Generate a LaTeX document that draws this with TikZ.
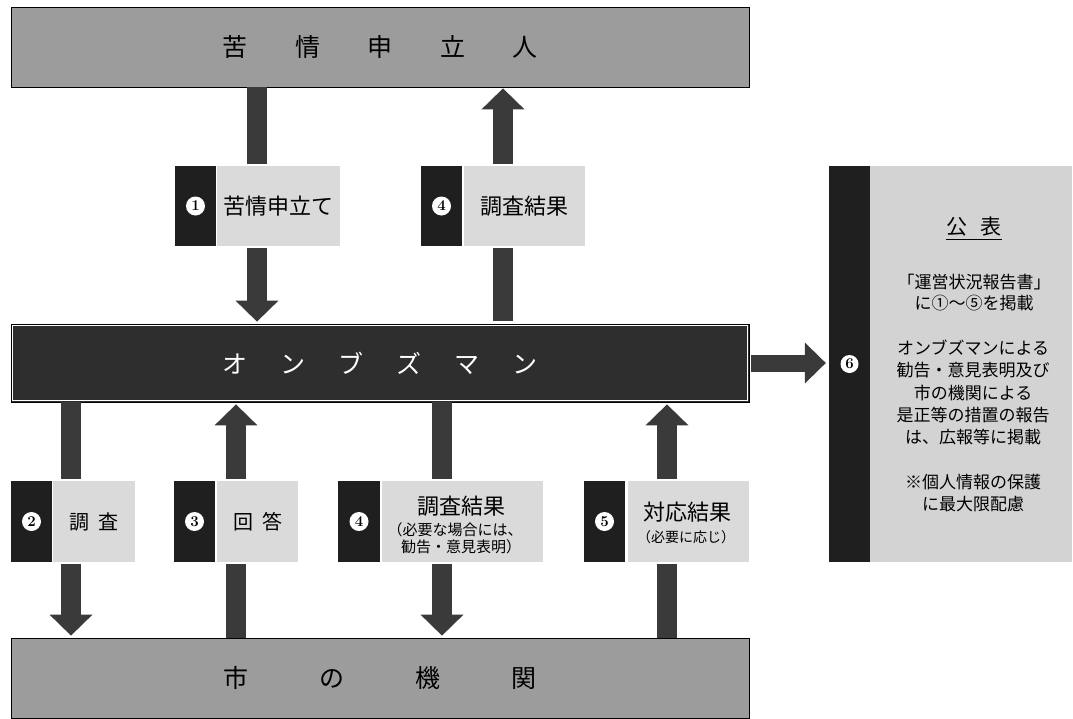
\documentclass[tikz,border=0pt]{standalone}
\usepackage{fontspec}
\newfontfamily\jp{Noto Sans CJK JP}
\usetikzlibrary{arrows.meta}
\definecolor{bargray}{HTML}{9C9C9C}
\definecolor{omgray}{HTML}{2E2E2E}
\definecolor{lightgraybox}{HTML}{DADADA}
\definecolor{panelgray}{HTML}{D3D3D3}
\definecolor{arrowc}{HTML}{3A3A3A}
\definecolor{blackbox}{HTML}{1F1F1F}
\newcommand{\fsz}[1]{\fontsize{#1}{#1}\selectfont}
\begin{document}
\begin{tikzpicture}[x=1pt,y=-1pt,
  bar/.style={draw=black, line width=0.8pt, inner sep=0pt, minimum width=738pt, font=\jp\fsz{25}},
  bbox/.style={fill=blackbox, inner sep=0pt, minimum width=41pt},
  lbox/.style={fill=lightgraybox, inner sep=0pt, font=\jp\fsz{22}},
  num/.style={circle, fill=white, inner sep=0pt, minimum size=19pt, font=\bfseries\fsz{15}},
  txt/.style={inner sep=0pt, font=\jp\fsz{22}},
  small/.style={inner sep=0pt, font=\jp\fsz{15}},
  shaft/.style={draw=arrowc, line width=20pt},
  head/.style={shaft, -{Triangle[width=43pt,length=21pt,line width=0pt]}}
  ]
\useasboundingbox (0,0) rectangle (1073,718);
\fill[white] (0,0) rectangle (1073,718);

% main bars
\node[bar, fill=bargray, minimum height=80pt] (top) at (380,47)
  {苦\hspace{47.5pt}情\hspace{47.5pt}申\hspace{47.5pt}立\hspace{47.5pt}人};
\node[bar, fill=omgray, minimum height=78pt, text=white] (om) at (380,363)
  {オ\hspace{33pt}ン\hspace{33pt}ブ\hspace{33pt}ズ\hspace{33pt}マ\hspace{33pt}ン};
\draw[white, line width=0.8pt] ([xshift=2pt,yshift=-2pt]om.north west) rectangle ([xshift=-2pt,yshift=2pt]om.south east);
\node[bar, fill=bargray, minimum height=80pt] (bot) at (380,678)
  {市\hspace{71pt}の\hspace{71pt}機\hspace{71pt}関};

% upper labels
\node[bbox, minimum height=80pt] (b1) at (195.5,206) {};
\node[lbox, minimum width=123pt, minimum height=80pt] (l1) at (278.5,206) {苦情申立て};
\node[num] (n1) at (b1) {1};

\node[bbox, minimum height=80pt] (b4a) at (441.5,206) {};
\node[lbox, minimum width=121pt, minimum height=80pt] (l4a) at (524.5,206) {調査結果};
\node[num] (n4a) at (b4a) {4};

% lower labels
\node[bbox, minimum height=81pt] (b2) at (31.5,521.5) {};
\node[lbox, minimum width=82pt, minimum height=81pt, font=\jp\fsz{20}] (l2) at (94,521.5) {調\hspace{9pt}査};
\node[num] (n2) at (b2) {2};

\node[bbox, minimum height=81pt] (b3) at (194.5,521.5) {};
\node[lbox, minimum width=81pt, minimum height=81pt, font=\jp\fsz{20}] (l3) at (257.5,521.5) {回\hspace{9pt}答};
\node[num] (n3) at (b3) {3};

\node[bbox, minimum width=42pt, minimum height=81pt] (b4b) at (359,521.5) {};
\node[lbox, minimum width=161pt, minimum height=81pt] (l4b) at (462.5,521.5) {};
\node[num] (n4b) at (b4b) {4};
\node[txt] (t4b1) at (461,506) {調査結果};
\node[small] (t4b2) at (455,530) {（必要な場合には、};
\node[small] (t4b3) at (461,547) {勧告・意見表明）};

\node[bbox, minimum height=81pt] (b5) at (604.5,521.5) {};
\node[lbox, minimum width=121pt, minimum height=81pt] (l5) at (688.5,521.5) {};
\node[num] (n5) at (b5) {5};
\node[txt] (t5a) at (687,512) {対応結果};
\node[small, font=\jp\fsz{14}] (t5b) at (686,537) {（必要に応じ）};

% right panel
\node[bbox, minimum height=396pt] (b6) at (849.5,364) {};
\node[fill=panelgray, inner sep=0pt, minimum width=202pt, minimum height=396pt] (l6) at (971,364) {};
\node[num, minimum size=18pt] (n6) at (b6) {6};
\node[inner sep=0pt, font=\jp\fsz{21}] (pub) at (974,227) {公\hspace{14pt}表};
\draw[line width=1pt] ([yshift=-3pt]pub.south west) -- ([yshift=-3pt]pub.south east);
\node[inner sep=0pt, align=center, font=\jp\fontsize{17}{21}\selectfont] (pa) at (974,293)
  {「運営状況報告書」\\に①～⑤を掲載};
\node[inner sep=0pt, align=center, font=\jp\fontsize{17}{22.25}\selectfont] (pb) at (973,392.5)
  {オンブズマンによる\\勧告・意見表明及び\\市の機関による\\是正等の措置の報告\\は、広報等に掲載};
\node[inner sep=0pt, align=center, font=\jp\fontsize{17}{22}\selectfont] (pc) at (973,493)
  {※個人情報の保護\\に最大限配慮};

% arrow positions
\coordinate (a1) at (257,0);
\coordinate (a4a) at (503,0);
\coordinate (a2) at (71,0);
\coordinate (a3) at (236,0);
\coordinate (a4b) at (442,0);
\coordinate (a5) at (667,0);

% 1
\draw[shaft, shorten >=2pt] (top.south -| a1) -- (l1.north -| a1);
\draw[head, shorten <=2pt, shorten >=2pt] (l1.south -| a1) -- (om.north -| a1);
% 4 (upper)
\draw[shaft, shorten <=3pt, shorten >=2pt] (om.north -| a4a) -- (l4a.south -| a4a);
\draw[head, shorten <=2pt, shorten >=1pt] (l4a.north -| a4a) -- (top.south -| a4a);
% 2
\draw[shaft, shorten >=2pt] (om.south -| a2) -- (l2.north -| a2);
\draw[head, shorten <=2pt, shorten >=2pt] (l2.south -| a2) -- (bot.north -| a2);
% 3
\draw[shaft, shorten >=2pt] (bot.north -| a3) -- (l3.south -| a3);
\draw[head, shorten <=2pt, shorten >=2pt] (l3.north -| a3) -- (om.south -| a3);
% 4 (lower)
\draw[shaft, shorten >=2pt] (om.south -| a4b) -- (l4b.north -| a4b);
\draw[head, shorten <=2pt, shorten >=2pt] (l4b.south -| a4b) -- (bot.north -| a4b);
% 5
\draw[shaft, shorten >=2pt] (bot.north -| a5) -- (l5.south -| a5);
\draw[head, shorten <=2pt, shorten >=2pt] (l5.north -| a5) -- (om.south -| a5);
% 6
\draw[shaft, line width=17pt, -{Triangle[width=41pt,length=21pt,line width=0pt]}, shorten <=2pt, shorten >=3pt]
  (om.east) -- (om.east -| b6.west);
\end{tikzpicture}
\end{document}
